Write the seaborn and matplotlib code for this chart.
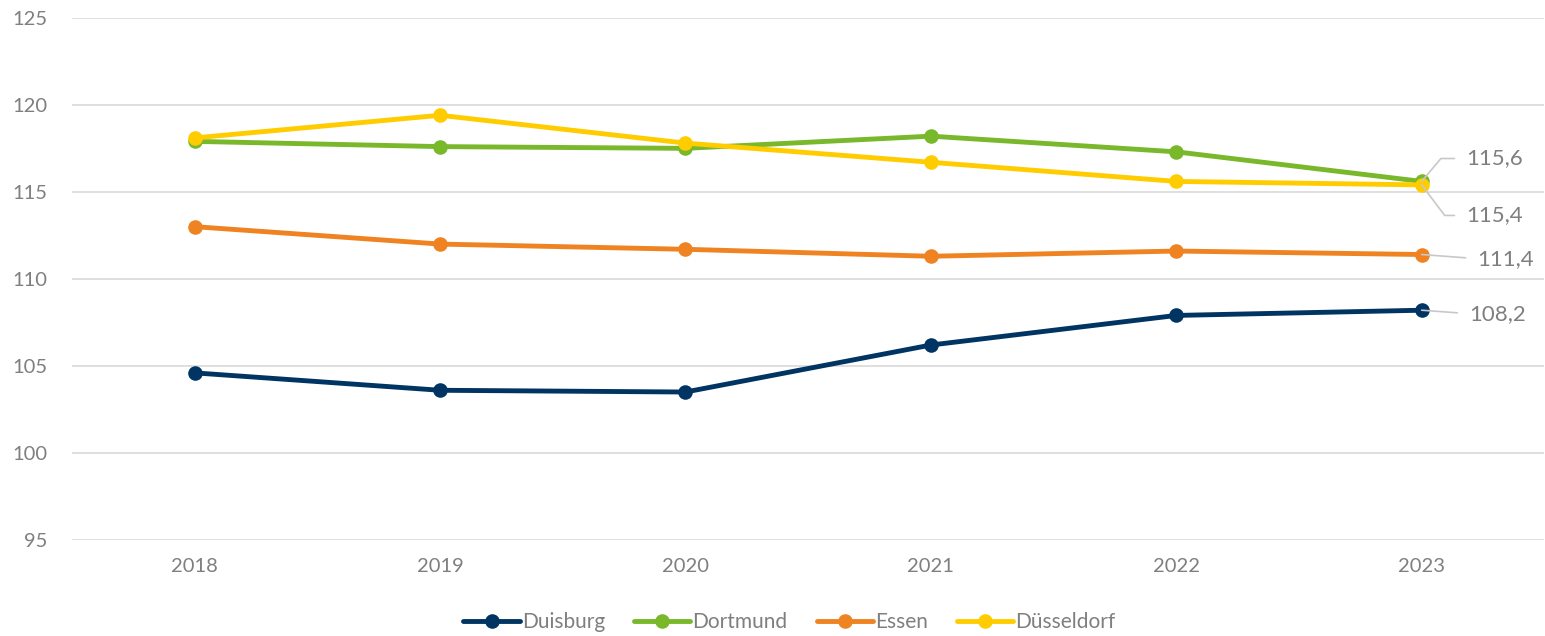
import pandas as pd
import matplotlib
matplotlib.use("Agg")
import matplotlib.pyplot as plt
import seaborn as sns

# data
years = [2018, 2019, 2020, 2021, 2022, 2023]
duisburg = [104.6, 103.6, 103.5, 106.2, 107.9, 108.2]
dortmund = [117.9, 117.6, 117.5, 118.2, 117.3, 115.6]
essen = [113.0, 112.0, 111.7, 111.3, 111.6, 111.4]
duesseldorf = [118.1, 119.4, 117.8, 116.7, 115.6, 115.4]

cities = ["Duisburg", "Dortmund", "Essen", "Düsseldorf"]
colors = ["#003463", "#78b82a", "#ef8221", "#ffcc00"]

rows = []
for name, vals in zip(cities, [duisburg, dortmund, essen, duesseldorf]):
    for y, v in zip(years, vals):
        rows.append({"year": y, "value": v, "city": name})
df = pd.DataFrame(rows)

sns.set_style("white")
plt.rcParams["font.family"] = ["Lato", "DejaVu Sans"]

fig = plt.figure(figsize=(15.45, 6.36), dpi=100)
ax = fig.add_axes([0.0466, 0.151, 0.953, 0.821])

grey = "#7f7f7f"

sns.lineplot(data=df, x="year", y="value", hue="city", hue_order=cities,
             palette=colors, marker="o", markersize=10.5, markeredgewidth=0,
             linewidth=3.5, ax=ax, legend=False)

ax.set_xlim(2017.5, 2023.5)
ax.set_ylim(95, 125)
ax.set_yticks(range(95, 126, 5))
ax.set_xticks(years)
ax.set_xlabel("")
ax.set_ylabel("")
ax.grid(axis="y", color="#d9d9d9", linewidth=1.2)
ax.set_axisbelow(True)
for s in ax.spines.values():
    s.set_visible(False)
ax.tick_params(axis="both", length=0, labelsize=14.5, labelcolor=grey)
ax.tick_params(axis="x", pad=13)
ax.tick_params(axis="y", pad=18)

# end labels with leader lines
last = {"Dortmund": (dortmund[-1], (32, 16.5), 50),
        "Düsseldorf": (duesseldorf[-1], (32, -22), -53),
        "Essen": (essen[-1], (40, -3), None),
        "Duisburg": (duisburg[-1], (34, -2.5), None)}
for name, (v, off, angB) in last.items():
    if angB is None:
        cs = "arc3"
    else:
        cs = "angle,angleA=0,angleB=%d,rad=0" % angB
    ax.annotate(f"{v:.1f}".replace(".", ","), xy=(years[-1], v), xytext=off,
                textcoords="offset points", ha="left", va="center",
                fontsize=16, color=grey,
                arrowprops=dict(arrowstyle="-", color="#c8c8c8", lw=1.2,
                                shrinkA=6, shrinkB=0, relpos=(0, 0.5),
                                connectionstyle=cs))

handles = [plt.Line2D([], [], color=c, marker="o", markersize=10.5,
                      markeredgewidth=0, linewidth=3.5) for c in colors]
fig.legend(handles, cities, loc="center", bbox_to_anchor=(0.511, 0.022),
           ncol=4, frameon=False, fontsize=15, labelcolor=grey,
           handlelength=2.7, handletextpad=0.1, columnspacing=1.4)

fig.savefig("out.png", dpi=100)
